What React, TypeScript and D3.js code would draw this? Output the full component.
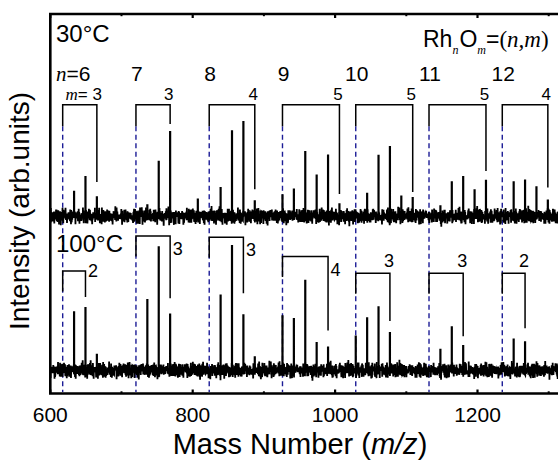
import React from 'react';
import * as d3 from 'd3';

// atomic masses used for the Rh_nO_m cluster positions
const RH = 102.9;
const OX = 16;

const clusterSizes = [6, 7, 8, 9, 10, 11, 12];

// 30 C spectrum peaks: [n, m, intensity above baseline]
const peaks30 = [
  [6, 1, 6.7], [6, 2, 10.6], [6, 3, 5.3],
  [7, 1, 3.2], [7, 2, 14.6], [7, 3, 22.5],
  [8, -1, 4.7], [8, 1, 7.7], [8, 2, 22.7], [8, 3, 25.1], [8, 4, 4.2],
  [9, 0, 5.8], [9, 1, 7.3], [9, 2, 17.2], [9, 3, 11.0], [9, 4, 16.3], [9, 5, 3.4],
  [10, 1, 6.2], [10, 2, 16.2], [10, 3, 18.5], [10, 4, 5.5], [10, 5, 5.1],
  [11, 1, 2.9], [11, 2, 9.2], [11, 3, 10.6], [11, 4, 7.1], [11, 5, 9.6],
  [12, 1, 9.2], [12, 2, 9.7], [12, 3, 7.9], [12, 4, 4.4],
];

// 100 C spectrum peaks
const peaks100 = [
  [6, 1, 15.6], [6, 2, 16.7], [6, 3, 4.4],
  [7, 1, 18.8], [7, 2, 32.7], [7, 3, 15.0],
  [8, 1, 20.0], [8, 2, 33.0], [8, 3, 14.8], [8, 4, 3.7],
  [9, 0, 14.5], [9, 1, 13.8], [9, 2, 23.9], [9, 3, 7.5], [9, 4, 6.3],
  [10, 0, 9.2], [10, 1, 14.0], [10, 2, 16.9], [10, 3, 10.1],
  [11, 1, 5.7], [11, 2, 11.6], [11, 3, 6.7],
  [12, 1, 8.4], [12, 2, 7.7],
];

const baseline30 = 46.7;
const baseline100 = 6.1;

// brackets: [n, last m, bracket top, right leg end]
const brackets30 = [
  [6, 3, 76.1, 55.7], [7, 3, 76.1, 71.0], [8, 4, 76.1, 53.8], [9, 5, 76.1, 52.6],
  [10, 5, 76.1, 53.1], [11, 5, 76.1, 58.6], [12, 4, 76.1, 54.3],
];
const brackets100 = [
  [6, 2, 32.3, 25.4], [7, 3, 41.5, 25.1], [8, 3, 41.2, 26.4], [9, 4, 36.1, 16.6],
  [10, 3, 31.7, 19.1], [11, 3, 31.7, 15.1], [12, 2, 31.7, 17.2],
];

const xTicks = [600, 800, 1000, 1200];
const xMinorTicks = [700, 900, 1100, 1300];

// baseline noise texture
const noiseA = [0.31, -0.78, 0.92, -0.24, -0.88, 0.57, 0.12, -0.51, 0.83, -0.69, 0.41, -0.97, 0.66, 0.18, -0.42, 0.95, -0.61, -0.08, 0.49, -0.86, 0.63, 0.02, -0.74, 0.87, -0.29, 0.44, -0.93, 0.16, 0.71, -0.56, 0.34, -0.67, 0.99, -0.47, 0.06, -0.91, 0.54, 0.27, -0.36, 0.76, -0.14];
const noiseB = [-0.45, 0.12, 0.88, -0.63, 0.27, -0.95, 0.51, 0.04, -0.32, 0.79, -0.71, 0.36, -0.18, 0.93, -0.52, 0.21, -0.84, 0.64, -0.09, 0.46, -0.99, 0.72, -0.26, 0.15, -0.67, 0.85, -0.41, 0.58, -0.13, -0.77, 0.97, -0.35, 0.23, -0.59, 0.68, -0.92, 0.39, 0.07, -0.48, 0.81, -0.22, 0.53, -0.86, 0.3, -0.04, 0.74, -0.65, 0.19, -0.38, 0.9, -0.55, 0.11, -0.81, 0.61, -0.29, 0.43, -0.73, 0.96, -0.16];
const wobble = [0.2, -0.5, 0.7, -0.1, -0.8, 0.4, 0.9, -0.3, 0.1, -0.7, 0.6, -0.2, 0.3, -0.9, 0.5, 0.0, -0.4, 0.8, -0.6, 0.2, -0.1, 0.7, -0.5];

const W = 558;
const H = 461;
const SANS = '"Liberation Sans", Arial, Helvetica, sans-serif';
const SERIF = '"Liberation Serif", "Times New Roman", serif';
const BLUE = '#1c1c96';

const mass = (n: number, m: number) => RH * n + OX * m;

export default function App() {
  const x = d3.scaleLinear().domain([600, 1400]).range([50.3, 50.3 + 800 * 0.712]);
  const y = d3.scaleLinear().domain([0, 100]).range([393.5, 14]);
  const [yBottom, yTop] = y.range();
  const left = x.range()[0];

  const line = d3.line<[number, number]>().x(d => x(d[0])).y(d => y(d[1]));

  const noisePath = (base: number, seed: number) => {
    const pts: [number, number][] = [];
    const step = 0.35;
    for (let i = 0; i * step <= 720; i++) {
      const k = i + seed;
      const v = 0.62 * noiseA[k % noiseA.length] + 0.38 * noiseB[k % noiseB.length];
      const w = wobble[Math.floor(k / 9) % wobble.length];
      pts.push([600 + i * step, base + 2.3 * v + 0.6 * w]);
    }
    return line(pts) as string;
  };

  const peakPath = (peaks: number[][], base: number) =>
    peaks.map(([n, m, h]) => `M${x(mass(n, m))},${y(base)}V${y(base + h)}`).join('');

  const bracketPath = (b: number[], legLow: number) => {
    const [n, m, top, end] = b;
    return `M${x(mass(n, 0))},${y(legLow)}V${y(top)}H${x(mass(n, m))}V${y(end)}`;
  };

  // label placement for the 100 C brackets: side labels or above the right leg
  const sideDy: Record<number, number> = { 6: 6.5, 7: 18.5, 8: 18.5, 9: 19 };

  return (
    <svg width={W} height={H} style={{ display: 'block', position: 'absolute', left: 0, top: 0 }}>
      <rect width={W} height={H} fill="#fff" />

      {/* cluster guide lines */}
      {clusterSizes.map(n => (
        <line key={'g' + n} x1={x(mass(n, 0))} x2={x(mass(n, 0))} y1={y(70.4)} y2={y(0.4)}
          stroke={BLUE} strokeWidth={1.4} strokeDasharray="5,3.5" />
      ))}

      {/* spectra */}
      <path d={noisePath(baseline30, 0)} fill="none" stroke="#000" strokeWidth={1.8} />
      <path d={noisePath(baseline100, 517)} fill="none" stroke="#000" strokeWidth={1.8} />
      <path d={peakPath(peaks30, baseline30)} fill="none" stroke="#000" strokeWidth={2.2} />
      <path d={peakPath(peaks100, baseline100)} fill="none" stroke="#000" strokeWidth={2.2} />

      {/* brackets */}
      {brackets30.map(b => (
        <path key={'b30' + b[0]} d={bracketPath(b, 70.4)} fill="none" stroke="#000" strokeWidth={1.5} />
      ))}
      {brackets100.map(b => (
        <path key={'b100' + b[0]} d={bracketPath(b, b[2] - 5.4)} fill="none" stroke="#000" strokeWidth={1.5} />
      ))}

      {/* n labels */}
      {clusterSizes.map(n => n === 6 ? (
        <text key={'n' + n} x={56} y={y(76.1) - 23.5} fontFamily={SANS} fontSize={21}>
          <tspan fontFamily={SERIF} fontStyle="italic">n</tspan>=6
        </text>
      ) : (
        <text key={'n' + n} x={x(mass(n, 0)) + 1} y={y(76.1) - 23.5} fontFamily={SANS} fontSize={21} textAnchor="middle">{n}</text>
      ))}

      {/* m labels, 30 C */}
      {brackets30.map(([n, m, top]) => n === 6 ? (
        <text key={'m30' + n} x={x(mass(n, m)) + 5} y={y(top) - 5} fontFamily={SANS} fontSize={17} textAnchor="end">
          <tspan fontFamily={SERIF} fontStyle="italic">m</tspan>= {m}
        </text>
      ) : (
        <text key={'m30' + n} x={x(mass(n, m)) - 1.5} y={y(top) - 5} fontFamily={SANS} fontSize={17} textAnchor="middle">{m}</text>
      ))}

      {/* m labels, 100 C */}
      {brackets100.map(([n, m, top]) => sideDy[n] !== undefined ? (
        <text key={'m100' + n} x={x(mass(n, m)) + 2.5} y={y(top) + sideDy[n]} fontFamily={SANS} fontSize={18}>{m}</text>
      ) : (
        <text key={'m100' + n} x={x(mass(n, m)) - 1} y={y(top) - 6.5} fontFamily={SANS} fontSize={18} textAnchor="middle">{m}</text>
      ))}

      <text x={56} y={42} fontFamily={SANS} fontSize={24}>30°C</text>
      <text x={56} y={251.5} fontFamily={SANS} fontSize={24}>100°C</text>

      <text x={423} y={47} fontFamily={SANS} fontSize={23}>
        Rh<tspan fontFamily={SERIF} fontStyle="italic" fontSize={12} dy={7}>n</tspan>
        <tspan dy={-7} dx={1}>O</tspan>
        <tspan fontFamily={SERIF} fontStyle="italic" fontSize={12} dy={7}>m</tspan>
        <tspan dy={-7}>=</tspan>
        <tspan fontFamily={SERIF}>(</tspan>
        <tspan fontFamily={SERIF} fontStyle="italic">n,m</tspan>
        <tspan fontFamily={SERIF}>)</tspan>
      </text>

      {/* frame */}
      <path d={`M${x.range()[1]},${yTop}H${left}V${yBottom}H${x.range()[1]}`} fill="none" stroke="#000" strokeWidth={2.6} />

      {/* ticks */}
      {xTicks.map(t => (
        <g key={'t' + t}>
          <line x1={x(t)} x2={x(t)} y1={yBottom} y2={yBottom - 4} stroke="#000" strokeWidth={2.2} />
          <line x1={x(t)} x2={x(t)} y1={yTop} y2={yTop + 4} stroke="#000" strokeWidth={2.2} />
          <text x={x(t)} y={422} fontFamily={SANS} fontSize={21} textAnchor="middle">{t}</text>
        </g>
      ))}
      {xMinorTicks.map(t => (
        <g key={'mt' + t}>
          <line x1={x(t)} x2={x(t)} y1={yBottom} y2={yBottom - 2.2} stroke="#000" strokeWidth={2} />
          <line x1={x(t)} x2={x(t)} y1={yTop} y2={yTop + 2.2} stroke="#000" strokeWidth={2} />
        </g>
      ))}

      <text x={300} y={454} fontFamily={SANS} fontSize={29} textAnchor="middle">
        Mass Number (<tspan fontStyle="italic">m/z</tspan>)
      </text>
      <text transform="translate(29,211) rotate(-90)" fontFamily={SANS} fontSize={28} textAnchor="middle">
        Intensity (arb.units)
      </text>
    </svg>
  );
}
